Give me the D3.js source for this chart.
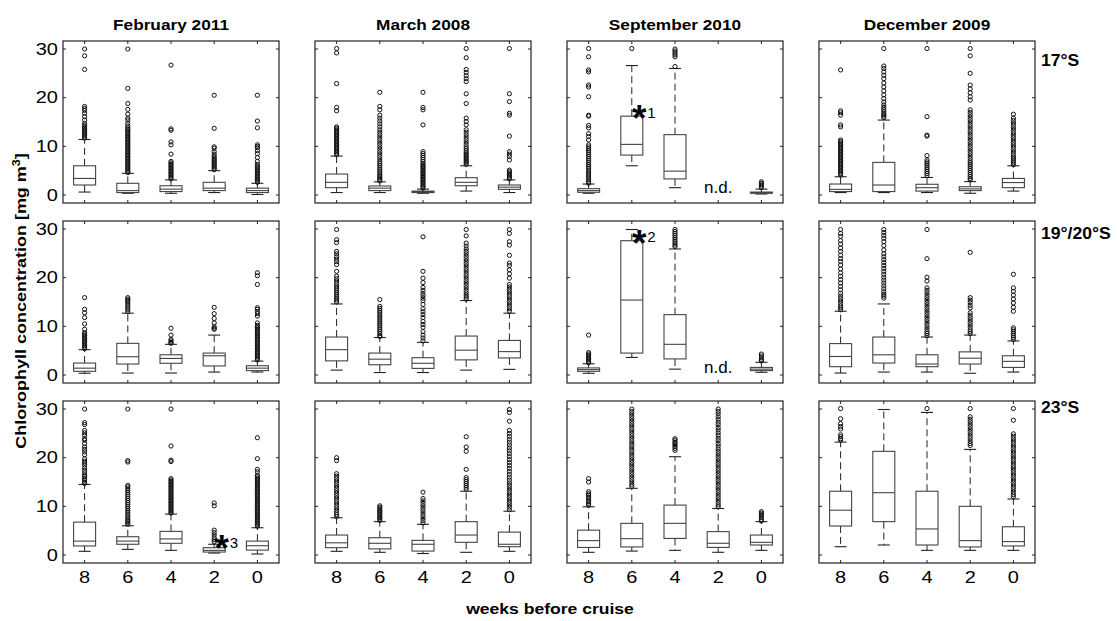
<!DOCTYPE html>
<html>
<head>
<meta charset="utf-8">
<script src="https://cdn.jsdelivr.net/npm/d3@7"></script>
<style>
  html, body { margin: 0; padding: 0; background: #fff; }
  svg { display: block; }
  text { font-family: "Liberation Sans", Arial, Helvetica, sans-serif; fill: #000; }
</style>
</head>
<body>
<svg id="chart" width="1117" height="621"></svg>
<script>
// ---- categories and labels ----
const cruises = ["February 2011", "March 2008", "September 2010", "December 2009"];
const latitudes = ["17°S", "19°/20°S", "23°S"];
const weeks = ["8", "6", "4", "2", "0"];
const yTickValues = [0, 10, 20, 30];

// ---- box statistics per week: [lower whisker, Q1, median, Q3, upper whisker]; null = no data ----
const statsFeb17 = [[0.6, 2.05, 3.4, 6.0, 11.4], [0.35, 0.5, 0.9, 2.4, 4.45], [0.35, 0.7, 1.2, 1.9, 3.1], [0.5, 0.9, 1.4, 2.6, 5.0], [0.1, 0.5, 0.9, 1.4, 2.4]];
const statsMar17 = [[0.5, 1.5, 2.6, 4.3, 8.0], [0.5, 0.9, 1.4, 1.85, 2.7], [0.35, 0.5, 0.7, 0.8, 1.2], [0.8, 1.9, 2.6, 3.55, 6.0], [0.5, 1.15, 1.6, 2.05, 3.1]];
const statsSep17 = [[0.35, 0.55, 0.9, 1.3, 2.25], [6.0, 8.2, 10.4, 16.2, 26.6], [1.5, 3.3, 4.9, 12.4, 26.0], null, [0.2, 0.35, 0.5, 0.6, 1.2]];
const statsDec17 = [[0.5, 0.7, 1.15, 2.25, 3.75], [0.5, 0.7, 2.05, 6.7, 15.4], [0.5, 0.8, 1.5, 2.2, 3.6], [0.35, 0.9, 1.25, 1.7, 2.75], [0.8, 1.5, 2.55, 3.4, 6.0]];

const statsFeb19 = [[0.35, 0.75, 1.4, 2.45, 5.2], [0.4, 2.25, 3.75, 6.5, 12.7], [0.4, 2.4, 3.4, 4.15, 6.3], [0.6, 1.85, 3.95, 4.5, 8.2], [0.6, 0.9, 1.4, 1.9, 2.85]];
const statsMar19 = [[1.0, 2.9, 5.2, 7.8, 14.6], [0.5, 2.1, 3.25, 4.5, 7.7], [0.5, 1.35, 2.4, 3.55, 6.7], [1.0, 3.1, 5.1, 8.0, 15.3], [1.15, 3.5, 4.8, 7.1, 12.7]];
const statsSep19 = [[0.35, 0.75, 1.1, 1.45, 2.3], [3.6, 4.5, 15.4, 27.6, 29.9], [1.2, 3.3, 6.3, 12.4, 25.9], null, [0.55, 0.9, 1.2, 1.55, 2.6]];
const statsDec19 = [[0.4, 1.7, 3.8, 6.45, 13.1], [0.6, 2.45, 4.15, 7.8, 14.6], [0.6, 1.7, 2.25, 4.15, 7.8], [0.35, 2.25, 3.45, 4.75, 8.2], [0.6, 1.55, 2.8, 3.95, 7.0]];

const statsFeb23 = [[0.75, 1.85, 2.85, 6.75, 14.5], [1.15, 2.2, 2.85, 3.75, 6.0], [0.95, 2.4, 3.3, 4.85, 8.4], [0.4, 0.6, 0.95, 1.5, 2.2], [0.2, 1.0, 1.9, 2.85, 5.6]];
const statsMar23 = [[0.75, 1.5, 2.5, 4.1, 7.65], [0.55, 1.25, 2.4, 3.55, 6.85], [0.3, 0.8, 2.2, 3.0, 6.3], [0.55, 2.6, 4.1, 6.85, 13.1], [0.75, 1.7, 2.2, 4.7, 9.0]];
const statsSep23 = [[0.55, 1.55, 2.95, 5.1, 9.9], [0.8, 1.65, 3.35, 6.5, 13.7], [0.95, 3.4, 6.5, 10.25, 20.2], [0.55, 1.55, 2.4, 4.8, 9.55], [0.95, 2.05, 2.6, 4.1, 6.85]];
const statsDec23 = [[1.7, 5.95, 9.2, 13.1, 23.2], [2.05, 6.85, 12.8, 21.3, 29.9], [0.95, 2.05, 5.35, 13.1, 29.3], [0.95, 1.65, 2.95, 10.0, 21.7], [0.95, 1.85, 2.75, 5.8, 11.5]];

// ---- outliers per week (mg m-3) ----
const outFeb17 = [
  [30, 28.6, 25.8, 18.2, 17.8, 17.4, 16.8, 16.1, 15.4, 14.7, 14.3, 14.0, 13.7, 13.4, 13.1, 12.8, 12.5, 12.2, 11.9, 11.7],
  [30, 21.9, 18.8, 17.6, 16.6, 15.8, 15.4, 14.7, 14.2, 13.8, 13.5, 13.2, 12.9, 12.6, 12.3, 12.0, 11.7, 11.4, 11.1, 10.8, 10.5, 10.2, 9.9, 9.6, 9.3, 9.0, 8.7, 8.4, 8.1, 7.8, 7.5, 7.2, 6.9, 6.6, 6.3, 6.0, 5.7, 5.4, 5.1, 4.8, 4.6],
  [26.7, 13.6, 13.3, 10.9, 10.3, 8.4, 6.9, 6.6, 6.3, 6.0, 5.7, 5.4, 5.1, 4.8, 4.5, 4.2, 3.9, 3.6, 3.3],
  [20.5, 13.7, 9.9, 9.6, 8.9, 8.4, 7.9, 7.6, 7.3, 7.0, 6.7, 6.4, 6.1, 5.8, 5.5, 5.2],
  [20.5, 15.2, 13.8, 10.3, 10.0, 9.7, 9.1, 8.5, 7.7, 6.9, 6.3, 5.9, 5.6, 5.3, 5.0, 4.7, 4.4, 4.1, 3.8, 3.5, 3.2, 2.9, 2.6]
];
const outMar17 = [
  [30.1, 29.2, 22.9, 18.0, 17.3, 14.0, 13.7, 13.4, 13.1, 12.8, 12.5, 12.2, 11.9, 11.6, 11.3, 11.0, 10.7, 10.4, 10.1, 9.8, 9.5, 9.2, 8.9, 8.6, 8.3],
  [21.1, 18.2, 17.5, 16.4, 15.8, 15.2, 14.6, 14.0, 13.4, 12.9, 12.4, 11.9, 11.4, 10.9, 10.4, 9.9, 9.4, 8.9, 8.4, 7.9, 7.4, 6.9, 6.5, 6.1, 5.7, 5.3, 4.9, 4.5, 4.1, 3.8, 3.5, 3.2, 2.9],
  [21.1, 18.0, 17.5, 14.4, 8.9, 8.5, 8.1, 7.7, 7.3, 6.9, 6.5, 6.2, 5.9, 5.6, 5.3, 5.0, 4.7, 4.4, 4.1, 3.8, 3.5, 3.2, 2.9, 2.6, 2.3, 2.0, 1.7, 1.4],
  [30.1, 28.2, 25.8, 25.2, 24.5, 23.9, 23.3, 20.8, 18.8, 15.8, 15.1, 14.4, 13.4, 12.9, 12.4, 11.9, 11.4, 10.9, 10.4, 9.9, 9.5, 9.1, 8.7, 8.4, 8.1, 7.8, 7.5, 7.2, 6.9, 6.6, 6.3],
  [30.1, 20.8, 19.2, 16.8, 16.4, 12.1, 8.9, 8.4, 7.9, 7.2, 5.1, 4.8, 4.5, 4.2, 3.9, 3.6, 3.3]
];
const outSep17 = [
  [30.1, 28.4, 25.7, 25.3, 22.6, 22.2, 20.2, 16.4, 16.2, 14.3, 13.8, 12.6, 12.0, 11.3, 10.3, 9.9, 9.5, 9.1, 8.7, 8.3, 7.9, 7.5, 7.1, 6.7, 6.3, 5.9, 5.5, 5.1, 4.7, 4.3, 3.9, 3.5, 3.1, 2.7, 2.4],
  [30.1],
  [30.0, 29.6, 29.2, 28.8, 28.4, 26.4],
  [],
  [2.7, 2.4, 2.1, 1.8, 1.5]
];
const outDec17 = [
  [25.7, 17.3, 16.9, 16.4, 14.4, 14.0, 11.3, 11.0, 10.7, 10.4, 10.1, 9.8, 9.5, 9.2, 8.9, 8.6, 8.3, 8.0, 7.7, 7.4, 7.1, 6.8, 6.5, 6.2, 5.9, 5.6, 5.3, 5.0, 4.7, 4.4, 4.1],
  [30.1, 26.5, 26.0, 25.3, 24.6, 23.9, 23.0, 22.2, 21.4, 20.6, 19.8, 19.1, 18.5, 18.0, 17.6, 17.2, 16.8, 16.5, 16.2, 15.9],
  [30.1, 16.1, 12.3, 12.1, 8.1, 7.2, 6.8, 6.4, 6.0, 5.6, 5.2, 4.8, 4.4, 4.0],
  [30.1, 28.6, 25.0, 22.6, 21.8, 21.0, 20.2, 19.5, 17.5, 17.0, 16.5, 16.0, 15.5, 15.0, 14.5, 14.0, 13.5, 13.0, 12.5, 12.0, 11.5, 11.0, 10.5, 10.0, 9.5, 9.0, 8.5, 8.0, 7.5, 7.0, 6.6, 6.2, 5.8, 5.4, 5.0, 4.6, 4.2, 3.8, 3.4, 3.1],
  [16.6, 15.8, 15.3, 14.8, 14.3, 13.8, 13.3, 12.8, 12.3, 11.8, 11.3, 10.8, 10.3, 9.8, 9.3, 8.8, 8.3, 7.8, 7.4, 7.0, 6.6, 6.2]
];

const outFeb19 = [
  [15.9, 13.5, 12.8, 11.8, 10.5, 9.4, 8.7, 8.4, 8.1, 7.8, 7.5, 7.2, 6.9, 6.6, 6.3, 6.0, 5.7, 5.4],
  [15.9, 15.6, 15.3, 15.0, 14.6, 14.2, 13.8, 13.4, 13.0],
  [9.6, 8.2, 7.3, 7.0, 6.7, 6.5],
  [13.9, 12.6, 11.6, 10.7, 9.9, 9.6, 9.4],
  [21.0, 20.4, 18.6, 13.8, 13.5, 13.0, 12.6, 12.1, 10.7, 10.2, 9.9, 9.7, 9.4, 9.1, 8.8, 8.5, 8.2, 7.9, 7.6, 7.3, 7.0, 6.7, 6.4, 6.1, 5.8, 5.5, 5.2, 4.9, 4.6, 4.3, 4.0, 3.7, 3.4, 3.1]
];
const outMar19 = [
  [29.9, 27.8, 27.2, 25.4, 24.9, 24.3, 23.8, 23.3, 22.7, 21.3, 20.3, 19.8, 19.3, 18.8, 18.3, 17.8, 17.4, 17.0, 16.6, 16.2, 15.8, 15.4, 15.0],
  [15.5, 14.1, 13.7, 13.3, 12.9, 12.5, 12.1, 11.7, 11.3, 10.9, 10.5, 10.1, 9.7, 9.3, 8.9, 8.5, 8.1, 7.9],
  [28.4, 21.3, 19.9, 19.0, 18.0, 17.4, 16.8, 16.3, 15.8, 15.3, 14.5, 13.6, 13.0, 12.4, 11.8, 11.0, 10.4, 9.8, 8.9, 8.2, 7.6, 7.0],
  [29.9, 28.6, 27.1, 26.5, 25.9, 25.4, 24.9, 24.4, 23.9, 23.4, 22.9, 22.4, 21.9, 21.4, 20.9, 20.4, 19.9, 19.4, 18.9, 18.4, 17.9, 17.4, 16.9, 16.4, 16.0, 15.6],
  [29.9, 29.1, 27.4, 26.7, 24.6, 23.0, 22.5, 21.6, 20.8, 19.9, 18.6, 18.1, 17.6, 17.1, 16.6, 16.1, 15.6, 15.1, 14.6, 14.1, 13.6, 13.1]
];
const outSep19 = [
  [8.2, 4.6, 4.3, 4.0, 3.7, 3.4, 3.1, 2.8, 2.5],
  [],
  [29.9, 29.5, 29.1, 28.7, 28.3, 27.9, 27.5, 27.1, 26.7, 26.4],
  [],
  [4.3, 3.9, 3.5, 3.1, 2.9]
];
const outDec19 = [
  [29.9, 29.1, 28.5, 27.6, 26.9, 26.1, 25.4, 24.6, 23.9, 23.3, 22.6, 21.8, 21.0, 20.3, 19.6, 18.9, 18.2, 17.5, 16.8, 16.2, 15.7, 15.2, 14.7, 14.2, 13.8, 13.4],
  [29.9, 29.3, 28.7, 28.1, 27.4, 26.6, 25.7, 24.9, 24.3, 23.7, 23.1, 22.5, 21.9, 21.3, 20.7, 20.1, 19.5, 18.9, 18.3, 17.7, 17.1, 16.6, 16.2, 15.8],
  [29.9, 23.9, 20.1, 19.3, 17.9, 17.4, 16.9, 16.4, 15.9, 15.4, 14.9, 14.4, 13.9, 13.4, 12.9, 12.4, 11.9, 11.4, 10.9, 10.4, 9.9, 9.4, 8.9, 8.5, 8.1],
  [25.2, 15.9, 15.4, 14.9, 14.3, 13.8, 12.8, 12.3, 11.8, 11.3, 10.8, 10.3, 9.8, 9.3, 8.9, 8.5],
  [20.7, 17.9, 17.2, 16.4, 15.6, 14.8, 13.9, 13.1, 9.7, 9.3, 8.9, 8.5, 8.1, 7.7, 7.3]
];

const outFeb23 = [
  [30, 27.2, 26.8, 25.6, 25.1, 24.6, 23.9, 23.6, 22.9, 22.2, 21.7, 21.2, 20.6, 19.8, 19.3, 18.9, 18.5, 17.9, 17.4, 16.9, 16.4, 16.1, 15.7, 15.4, 15.0, 14.7],
  [30, 19.4, 19.1, 14.3, 14.0, 13.6, 13.2, 12.8, 12.4, 12.0, 11.6, 11.2, 10.8, 10.4, 10.0, 9.6, 9.2, 8.8, 8.4, 8.0, 7.6, 7.2, 6.9, 6.6, 6.3],
  [30, 22.4, 19.5, 19.2, 15.7, 15.4, 15.1, 14.8, 14.5, 14.2, 13.9, 13.6, 13.3, 13.0, 12.7, 12.4, 12.1, 11.8, 11.5, 11.2, 10.9, 10.6, 10.3, 10.0, 9.7, 9.4, 9.1, 8.8, 8.6],
  [10.7, 10.1, 5.1, 4.6, 4.1, 3.55, 3.1, 2.7],
  [24.1, 19.8, 17.6, 17.1, 16.4, 16.1, 15.8, 15.5, 15.2, 14.9, 14.6, 14.3, 14.0, 13.7, 13.4, 13.1, 12.8, 12.5, 12.2, 11.9, 11.6, 11.3, 11.0, 10.7, 10.4, 10.1, 9.8, 9.5, 9.2, 8.9, 8.6, 8.3, 8.0, 7.7, 7.4, 7.1, 6.8, 6.5, 6.2, 5.9]
];
const outMar23 = [
  [20.0, 19.4, 16.7, 16.2, 15.7, 15.2, 14.7, 14.2, 13.7, 13.2, 12.7, 12.2, 11.7, 11.2, 10.7, 10.2, 9.7, 9.2, 8.7, 8.3, 7.9],
  [10.1, 9.8, 9.5, 9.2, 8.9, 8.6, 8.3, 8.0, 7.7, 7.4, 7.1],
  [12.9, 11.6, 11.1, 10.6, 10.1, 9.6, 9.1, 8.6, 8.1, 7.6, 7.1, 6.6],
  [24.3, 22.2, 21.3, 17.6, 15.9, 15.5, 15.1, 14.7, 14.3, 13.9, 13.5],
  [29.9, 29.3, 27.5, 25.6, 25.0, 24.4, 23.8, 23.2, 22.6, 22.0, 21.4, 20.8, 20.2, 19.6, 19.0, 18.4, 17.8, 17.2, 16.6, 16.0, 15.4, 14.8, 14.3, 13.8, 13.3, 12.8, 12.3, 11.8, 11.3, 10.8, 10.3, 9.8, 9.3]
];
const outSep23 = [
  [15.7, 15.0, 13.0, 12.6, 12.3, 11.9, 11.6, 11.2, 10.9, 10.5, 10.2],
  [30.0, 29.5, 29.0, 28.5, 28.0, 27.5, 27.0, 26.5, 26.0, 25.5, 25.0, 24.5, 24.0, 23.5, 23.0, 22.5, 22.0, 21.5, 21.0, 20.5, 20.0, 19.5, 19.0, 18.5, 18.0, 17.5, 17.0, 16.5, 16.0, 15.5, 15.0, 14.5, 14.1],
  [23.9, 23.6, 23.2, 22.9, 22.6, 22.3, 21.9, 21.5],
  [30.0, 29.5, 29.0, 28.4, 27.9, 27.3, 26.8, 26.2, 25.7, 25.1, 24.6, 24.0, 23.5, 22.9, 22.4, 21.8, 21.3, 20.8, 20.3, 19.8, 19.3, 18.8, 18.3, 17.8, 17.3, 16.8, 16.3, 15.8, 15.3, 14.8, 14.3, 13.8, 13.3, 12.8, 12.3, 11.8, 11.3, 10.8, 10.3, 9.9],
  [8.9, 8.6, 8.3, 8.0, 7.7, 7.3, 7.0]
];
const outDec23 = [
  [30.1, 28.0, 27.0, 26.4, 25.9, 24.7, 24.3, 23.9, 23.6],
  [],
  [30.1],
  [30.1, 28.4, 27.9, 27.4, 26.9, 26.4, 25.9, 25.4, 24.9, 24.4, 23.9, 23.4, 22.9, 22.5],
  [30.1, 27.7, 24.9, 24.4, 23.9, 23.4, 22.9, 22.4, 21.9, 21.4, 20.9, 20.4, 19.9, 19.4, 18.9, 18.4, 17.9, 17.4, 16.9, 16.4, 15.9, 15.4, 14.9, 14.4, 13.9, 13.4, 12.9, 12.4, 12.0]
];

// ---- marked boxes (*n): row, column, week, value the marker sits at ----
const markRows = [0, 1, 2];
const markCols = [2, 2, 0];
const markWeeks = ["6", "6", "2"];
const markValues = [17.6, 29.0, 3.2];
const markLabels = ["1", "2", "3"];

// panel grid: rows = latitude band, columns = cruise
const statsGrid = [
  [statsFeb17, statsMar17, statsSep17, statsDec17],
  [statsFeb19, statsMar19, statsSep19, statsDec19],
  [statsFeb23, statsMar23, statsSep23, statsDec23]
];
const outGrid = [
  [outFeb17, outMar17, outSep17, outDec17],
  [outFeb19, outMar19, outSep19, outDec19],
  [outFeb23, outMar23, outSep23, outDec23]
];

// ---- layout ----
const svg = d3.select("#chart");
const panelLeft = 63, colStep = 252, panelTop = 41, rowStep = 180;
const pw = 216, ph = 162;
const boxW = 22, capW = 12, tickLen = 3;
const ink = "#222";
const SX = 1.25; // horizontal stretch of the lettering

const x = d3.scalePoint().domain(weeks).range([0, pw]).padding(0.5);
const y = d3.scaleLinear().domain([-1.65, 31.65]).range([ph, 0]);

function label(parent, str, px, py, size, weight, anchor, sx, rotate) {
  const t = parent.append("text")
    .attr("transform", `translate(${px},${py})` + (rotate ? ` rotate(${rotate})` : "") + ` scale(${sx},1)`)
    .attr("text-anchor", anchor)
    .style("font-size", size + "px")
    .style("font-weight", weight)
    .text(str);
  return t;
}

statsGrid.forEach((row, r) => {
  row.forEach((stats, c) => {
    const g = svg.append("g")
      .attr("transform", `translate(${panelLeft + c * colStep},${panelTop + r * rowStep})`);

    // frame
    g.append("rect").attr("x", 0).attr("y", 0).attr("width", pw).attr("height", ph)
      .attr("fill", "none").attr("stroke", ink).attr("stroke-width", 1.2);

    // inward y ticks on both sides
    yTickValues.forEach(v => {
      g.append("line").attr("x1", 0).attr("x2", tickLen).attr("y1", y(v)).attr("y2", y(v))
        .attr("stroke", ink).attr("stroke-width", 1);
      g.append("line").attr("x1", pw - tickLen).attr("x2", pw).attr("y1", y(v)).attr("y2", y(v))
        .attr("stroke", ink).attr("stroke-width", 1);
    });
    // inward x ticks top and bottom
    weeks.forEach(w => {
      g.append("line").attr("x1", x(w)).attr("x2", x(w)).attr("y1", ph).attr("y2", ph - tickLen)
        .attr("stroke", ink).attr("stroke-width", 1);
      g.append("line").attr("x1", x(w)).attr("x2", x(w)).attr("y1", 0).attr("y2", tickLen)
        .attr("stroke", ink).attr("stroke-width", 1);
    });

    // y tick labels on the first column
    if (c === 0) {
      yTickValues.forEach(v => label(g, String(v), -5, y(v) + 5.8, 16, "normal", "end", SX));
    }
    // x tick labels on the bottom row
    if (r === statsGrid.length - 1) {
      weeks.forEach(w => label(g, w, x(w), ph + 19.5, 16, "normal", "middle", SX));
    }

    // boxes
    stats.forEach((s, i) => {
      const cx = x(weeks[i]);
      if (!s) {
        label(g, "n.d.", cx, ph - 10, 17, "normal", "middle", 1);
        return;
      }
      const [lo, q1, med, q3, hi] = s;
      const wg = g.append("g").attr("stroke", ink).attr("fill", "none");
      // dashed whiskers
      wg.append("line").attr("x1", cx).attr("x2", cx).attr("y1", y(q3)).attr("y2", y(hi))
        .attr("stroke-dasharray", "7,4").attr("stroke-width", 1);
      wg.append("line").attr("x1", cx).attr("x2", cx).attr("y1", y(q1)).attr("y2", y(lo))
        .attr("stroke-dasharray", "7,4").attr("stroke-width", 1);
      // caps
      [lo, hi].forEach(v => wg.append("line")
        .attr("x1", cx - capW / 2).attr("x2", cx + capW / 2).attr("y1", y(v)).attr("y2", y(v))
        .attr("stroke-width", 1.1));
      // box and median
      wg.append("rect").attr("x", cx - boxW / 2).attr("y", y(q3))
        .attr("width", boxW).attr("height", Math.max(0.5, y(q1) - y(q3)))
        .attr("stroke-width", 1.1).attr("stroke", "#444");
      wg.append("line").attr("x1", cx - boxW / 2).attr("x2", cx + boxW / 2)
        .attr("y1", y(med)).attr("y2", y(med)).attr("stroke-width", 1.1).attr("stroke", "#444");
      // outliers
      wg.selectAll("circle.o").data(outGrid[r][c][i]).join("circle")
        .attr("class", "o").attr("cx", cx).attr("cy", d => y(d)).attr("r", 2.1)
        .attr("stroke", "#111").attr("stroke-width", 1);
    });

    // column titles
    if (r === 0) {
      label(g, cruises[c], pw / 2, -11, 15, "bold", "middle", 1.15);
    }
  });
});

// latitude labels at the right
const latBaselines = [66, 239, 413];
latitudes.forEach((t, r) => label(svg, t, 1041, latBaselines[r], 16, "bold", "start", 1.1));

// *n markers
markLabels.forEach((m, k) => {
  const gx = panelLeft + markCols[k] * colStep;
  const gy = panelTop + markRows[k] * rowStep;
  const cx = gx + x(markWeeks[k]) + 7.5;
  const cy = gy + y(markValues[k]);
  label(svg, "*", cx, cy + 22, 37, "bold", "middle", 1);
  label(svg, m, cx + 8, cy + 8.5, 15, "normal", "start", 1);
});

// axis titles
const yl = svg.append("text")
  .attr("transform", `translate(26,301) rotate(-90) scale(1.2,1)`)
  .attr("text-anchor", "middle")
  .style("font-size", "15px").style("font-weight", "bold");
yl.append("tspan").text("Chlorophyll concentration [mg m");
yl.append("tspan").attr("dy", -6).style("font-size", "10.5px").text("3");
yl.append("tspan").attr("dy", 6).text("]");

label(svg, "weeks before cruise", 550, 614, 15, "bold", "middle", 1.17);
</script>
</body>
</html>
